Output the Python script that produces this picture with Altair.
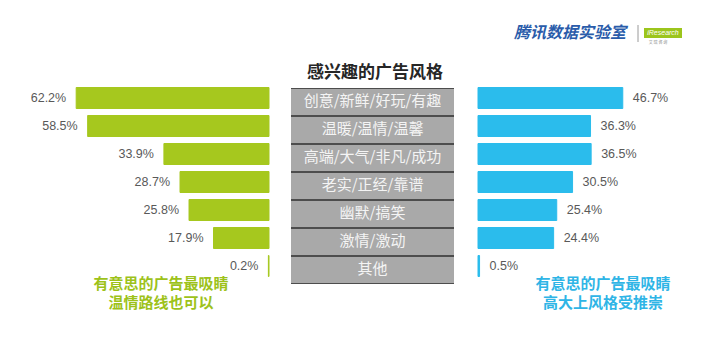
import altair as alt
import pandas as pd

categories = ["创意/新鲜/好玩/有趣", "温暖/温情/温馨", "高端/大气/非凡/成功",
              "老实/正经/靠谱", "幽默/搞笑", "激情/激动", "其他"]
left_values = [62.2, 58.5, 33.9, 28.7, 25.8, 17.9, 0.2]
right_values = [46.7, 36.3, 36.5, 30.5, 25.4, 24.4, 0.5]
title_text = "感兴趣的广告风格"
brand_text = "腾讯数据实验室"
left_note = ["有意思的广告最吸睛", "温情路线也可以"]
right_note = ["有意思的广告最吸睛", "高大上风格受推崇"]

GREEN = "#a6c81e"
BLUE = "#2bbcec"
GREEN_TXT = "#9dc21a"
BLUE_TXT = "#2fb5e6"
CJK = "Noto Sans CJK SC"
LAT = "Liberation Sans"

df = pd.DataFrame({
    "cat": categories,
    "left": left_values,
    "right": right_values,
    "left_lbl": [f"{v:.1f}%" for v in left_values],
    "right_lbl": [f"{v:.1f}%" for v in right_values],
})

base = alt.Chart(df)

ybar = alt.Y("cat:N", sort=categories, axis=None,
             scale=alt.Scale(range=[84, 280], paddingInner=0.25, paddingOuter=0.125))
ybox = alt.Y("cat:N", sort=categories, axis=None,
             scale=alt.Scale(range=[88, 284], paddingInner=0.08, paddingOuter=0.04))
xleft = alt.X("left:Q", axis=None, scale=alt.Scale(domain=[0, 80], range=[269, 21]))
xright = alt.X("right:Q", axis=None, scale=alt.Scale(domain=[0, 80], range=[478, 726]))

# middle panel
mid_bg = alt.Chart(pd.DataFrame({"k": [0]})).mark_rect(color="#4d4d4d").encode(
    x=alt.value(291), x2=alt.value(454), y=alt.value(88), y2=alt.value(284))
mid_boxes = base.mark_rect(color="#a9a9a9").encode(
    y=ybox, x=alt.value(291), x2=alt.value(454))
mid_text = base.mark_text(font=CJK, fontSize=15, color="#f4f4f4", align="center",
                          baseline="middle", dy=-1).encode(
    y=ybox, x=alt.value(372.5), text="cat:N")

# left bars
left_bars = base.mark_bar(color=GREEN, stroke=GREEN, strokeWidth=1).encode(y=ybar, x=xleft)
left_lbls = base.mark_text(font=LAT, fontSize=12.5, color="#595959", align="right",
                           baseline="middle", dx=-10).encode(y=ybar, x=xleft, text="left_lbl:N")

# right bars
right_bars = base.mark_bar(color=BLUE, stroke=BLUE, strokeWidth=1).encode(y=ybar, x=xright)
right_lbls = base.mark_text(font=LAT, fontSize=12.5, color="#595959", align="left",
                            baseline="middle", dx=10).encode(y=ybar, x=xright, text="right_lbl:N")


def label(txt, x, y, size, color, weight="bold", align="center", style=None, font=CJK):
    kw = {}
    if style:
        kw["fontStyle"] = style
    return alt.Chart(pd.DataFrame({"t": [txt]})).mark_text(
        font=font, fontSize=size, color=color, fontWeight=weight, align=align,
        baseline="middle", **kw).encode(x=alt.value(x), y=alt.value(y), text="t:N")


title = label(title_text, 375, 73, 17, "#262626")
brand = label(brand_text, 570, 33, 16, "#2a5caa", style="italic")
sep = alt.Chart(pd.DataFrame({"k": [0]})).mark_rule(color="#9a9a9a", strokeWidth=1).encode(
    x=alt.value(638), y=alt.value(25), y2=alt.value(42))
logo_box = alt.Chart(pd.DataFrame({"k": [0]})).mark_rect(color="#9cc51c").encode(
    x=alt.value(644), x2=alt.value(682), y=alt.value(28), y2=alt.value(38))
logo_txt = label("iResearch", 663, 33, 7, "#ffffff", weight="normal", style="italic", font=LAT)
logo_sub = label("艾 瑞 咨 询", 658, 43, 4, "#888888", weight="normal")

notes = [
    label(left_note[0], 161, 284, 15, GREEN_TXT),
    label(left_note[1], 161, 303, 15, GREEN_TXT),
    label(right_note[0], 603, 284, 15, BLUE_TXT),
    label(right_note[1], 603, 303, 15, BLUE_TXT),
]

chart = alt.layer(
    mid_bg, mid_boxes, mid_text,
    left_bars, left_lbls, right_bars, right_lbls,
    title, brand, sep, logo_box, logo_txt, logo_sub, *notes
).resolve_scale(x="independent", y="independent").properties(
    width=720, height=353, autosize=alt.AutoSizeParams(type="none"),
    padding=0, background="#ffffff"
).configure_view(stroke=None)

chart.save("out.html", embed_options={"renderer": "svg", "actions": False})
